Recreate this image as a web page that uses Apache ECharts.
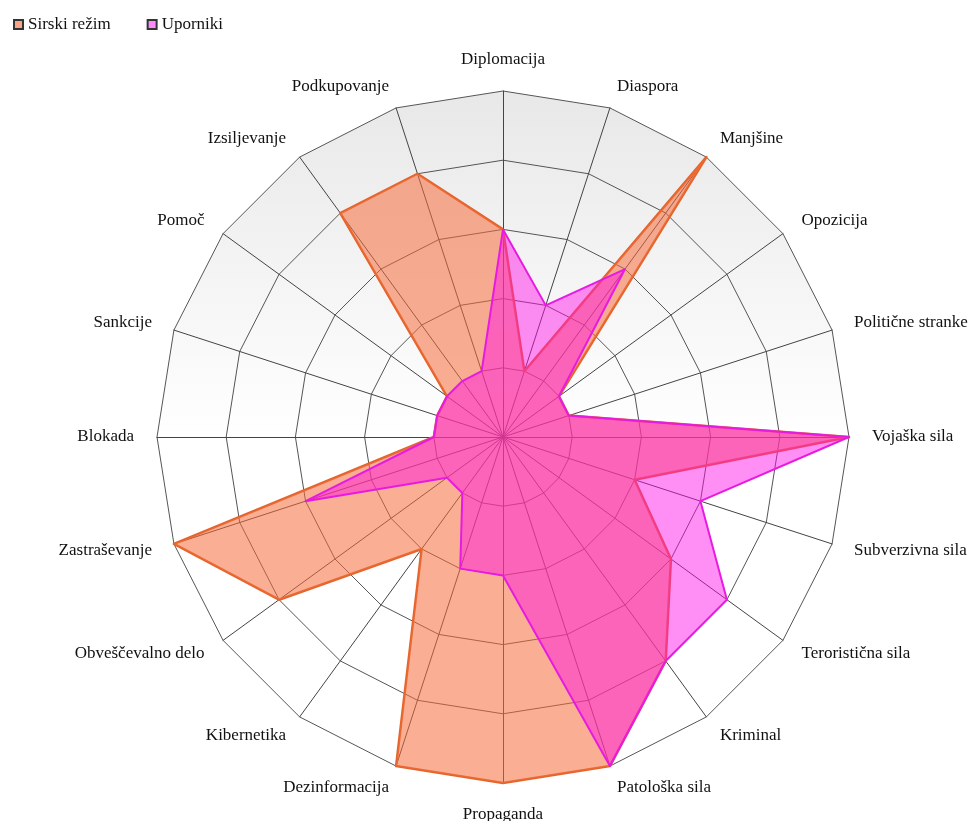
<!DOCTYPE html>
<html>
<head>
<meta charset="utf-8">
<script src="https://cdn.jsdelivr.net/npm/echarts@6/dist/echarts.min.js"></script>
<style>
    html, body { margin: 0; padding: 0; background: #fff; }
    #chart { width: 973px; height: 821px; }
</style>
</head>
<body>
<div id="chart"></div>
<script>
// osi v smeri urinega kazalca, začne se zgoraj
var categories = ['Diplomacija', 'Diaspora', 'Manjšine', 'Opozicija', 'Politične stranke',
    'Vojaška sila', 'Subverzivna sila', 'Teroristična sila', 'Kriminal', 'Patološka sila',
    'Propaganda', 'Dezinformacija', 'Kibernetika', 'Obveščevalno delo', 'Zastraševanje',
    'Blokada', 'Sankcije', 'Pomoč', 'Izsiljevanje', 'Podkupovanje'];
var seriesNames = ['Sirski režim', 'Uporniki'];
var rezim = [3, 1, 5, 1, 1, 5, 2, 3, 4, 5, 5, 5, 2, 4, 5, 1, 1, 1, 4, 4];
var uporniki = [3, 2, 3, 1, 1, 5, 3, 4, 4, 5, 2, 2, 1, 1, 3, 1, 1, 1, 1, 1];
var maxValue = 5;

// echarts riše radar v nasprotni smeri, zato obrnemo vrstni red (prva os ostane zgoraj)
function ccw(arr) {
    return [arr[0]].concat(arr.slice(1).reverse());
}

var chart = echarts.init(document.getElementById('chart'));
var font = 'Liberation Serif';

var option = {
    animation: false,
    legend: {
        left: 8,
        top: 11,
        itemWidth: 9,
        itemHeight: 9,
        itemGap: 36,
        icon: 'rect',
        textStyle: { fontFamily: font, fontSize: 17, color: '#111' },
        data: seriesNames
    },
    radar: {
        center: [503, 437],
        radius: 346,
        shape: 'polygon',
        splitNumber: 5,
        startAngle: 90,
        indicator: ccw(categories).map(function (c) { return { name: c, max: maxValue, min: 0 }; }),
        axisName: { color: '#111', fontFamily: font, fontSize: 17 },
        nameGap: 23,
        axisLine: { lineStyle: { color: '#444', width: 1 } },
        splitLine: { lineStyle: { color: '#555', width: 1 } },
        splitArea: {
            show: true,
            areaStyle: {
                color: [{
                    type: 'linear', x: 0, y: 91, x2: 0, y2: 440, global: true,
                    colorStops: [{ offset: 0, color: '#e8e8e8' }, { offset: 1, color: '#ffffff' }]
                }]
            }
        }
    },
    series: [{
        type: 'radar',
        symbol: 'none',
        data: [{
            name: seriesNames[0],
            value: ccw(rezim),
            itemStyle: { color: '#f7a584', borderColor: '#333', borderWidth: 1 },
            lineStyle: { color: '#e3652b', width: 2.5 },
            areaStyle: { color: 'rgba(246,110,60,0.55)', opacity: 1 }
        }, {
            name: seriesNames[1],
            value: ccw(uporniki),
            itemStyle: { color: '#ff88ff', borderColor: '#333', borderWidth: 1 },
            lineStyle: { color: '#e020e0', width: 2 },
            areaStyle: { color: 'rgba(255,10,230,0.46)', opacity: 1 }
        }]
    }]
};
chart.setOption(option);
</script>
</body>
</html>
